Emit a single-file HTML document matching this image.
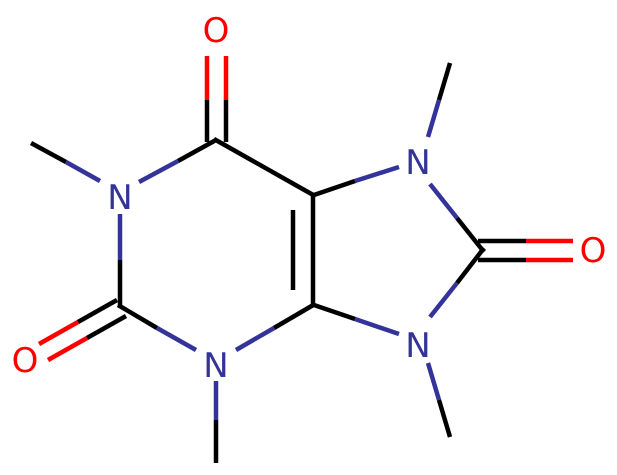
<!DOCTYPE html>
<html><head><meta charset="utf-8"><style>
html,body{margin:0;padding:0;background:#fff;width:617px;height:475px;overflow:hidden}
</style></head><body>
<svg width="617" height="475" viewBox="0 0 617 475" xmlns="http://www.w3.org/2000/svg">
<rect width="617" height="475" fill="#fff"/>
<g stroke-width="4.5" stroke-linecap="butt" fill="none">
<!-- C6=O -->
<line x1="207" y1="142" x2="207" y2="100" stroke="#000"/>
<line x1="207" y1="100" x2="207" y2="56" stroke="#f00"/>
<line x1="226" y1="142" x2="226" y2="100" stroke="#000"/>
<line x1="226" y1="100" x2="226" y2="56" stroke="#f00"/>
<!-- C6-N1 -->
<line x1="216" y1="140" x2="178" y2="161" stroke="#000"/>
<line x1="178" y1="161" x2="139" y2="182" stroke="#33339a"/>
<!-- N1-Me -->
<line x1="31" y1="143" x2="66" y2="162" stroke="#000"/>
<line x1="66" y1="162" x2="100" y2="181" stroke="#33339a"/>
<!-- N1-C2 -->
<line x1="120" y1="214" x2="120" y2="260" stroke="#33339a"/>
<line x1="120" y1="260" x2="120" y2="306" stroke="#000"/>
<!-- C2=O2 -->
<line x1="117" y1="300" x2="78" y2="322" stroke="#000"/>
<line x1="78" y1="322" x2="39" y2="344" stroke="#f00"/>
<line x1="126" y1="316" x2="87" y2="338" stroke="#000"/>
<line x1="87" y1="338" x2="48" y2="360" stroke="#f00"/>
<!-- C2-N3 -->
<line x1="118" y1="305" x2="157" y2="328" stroke="#000"/>
<line x1="157" y1="328" x2="196" y2="350" stroke="#33339a"/>
<!-- N3-Me -->
<line x1="216" y1="381" x2="216" y2="420" stroke="#33339a"/>
<line x1="216" y1="420" x2="216" y2="463" stroke="#000"/>
<!-- N3-C4 -->
<line x1="236" y1="350" x2="274" y2="328" stroke="#33339a"/>
<line x1="274" y1="328" x2="315" y2="304" stroke="#000"/>
<!-- C4=C5 -->
<line x1="313" y1="306" x2="313" y2="194" stroke="#000"/>
<line x1="293" y1="290" x2="293" y2="210" stroke="#000"/>
<!-- C5-C6 -->
<line x1="315" y1="196" x2="214" y2="139" stroke="#000"/>
<!-- C5-N7 -->
<line x1="311" y1="196" x2="355" y2="181" stroke="#000"/>
<line x1="355" y1="181" x2="399" y2="167" stroke="#33339a"/>
<!-- N7-Me -->
<line x1="428" y1="137" x2="439" y2="100" stroke="#33339a"/>
<line x1="439" y1="100" x2="450" y2="63" stroke="#000"/>
<!-- N7-C8 -->
<line x1="430" y1="184" x2="457" y2="218" stroke="#33339a"/>
<line x1="457" y1="218" x2="484" y2="252" stroke="#000"/>
<!-- C8=O8 -->
<line x1="478" y1="241" x2="526" y2="241" stroke="#000"/>
<line x1="526" y1="241" x2="573" y2="241" stroke="#f00"/>
<line x1="478" y1="260" x2="526" y2="260" stroke="#000"/>
<line x1="526" y1="260" x2="573" y2="260" stroke="#f00"/>
<!-- C8-N9 -->
<line x1="484" y1="248" x2="457" y2="283" stroke="#000"/>
<line x1="457" y1="283" x2="430" y2="317" stroke="#33339a"/>
<!-- N9-C4 -->
<line x1="399" y1="334" x2="355" y2="319" stroke="#33339a"/>
<line x1="355" y1="319" x2="311" y2="304" stroke="#000"/>
<!-- N9-Me -->
<line x1="428" y1="363" x2="439" y2="400" stroke="#33339a"/>
<line x1="439" y1="400" x2="450" y2="437" stroke="#000"/>
</g>
<g font-family="'DejaVu Sans', 'Liberation Sans', sans-serif" font-size="34" text-anchor="middle">
<text x="216" y="42" fill="#f00">O</text>
<text x="120" y="209" fill="#33339a">N</text>
<text x="25" y="372" fill="#f00">O</text>
<text x="216" y="377" fill="#33339a">N</text>
<text x="418" y="174" fill="#33339a">N</text>
<text x="593" y="262" fill="#f00">O</text>
<text x="418" y="357" fill="#33339a">N</text>
</g>
</svg>
</body></html>
